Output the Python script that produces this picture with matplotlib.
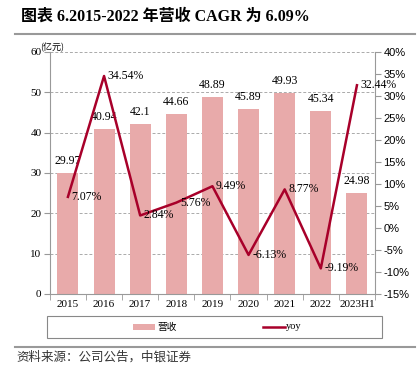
import matplotlib
matplotlib.use("Agg")
import matplotlib.pyplot as plt
from matplotlib.lines import Line2D
from matplotlib.patches import Rectangle

categories = ["2015", "2016", "2017", "2018", "2019", "2020", "2021", "2022", "2023H1"]
revenue = [29.97, 40.94, 42.1, 44.66, 48.89, 45.89, 49.93, 45.34, 24.98]
yoy = [7.07, 34.54, 2.84, 5.76, 9.49, -6.13, 8.77, -9.19, 32.44]
rev_labels = ["29.97", "40.94", "42.1", "44.66", "48.89", "45.89", "49.93", "45.34", "24.98"]
yoy_labels = ["7.07%", "34.54%", "2.84%", "5.76%", "9.49%", "-6.13%", "8.77%", "-9.19%", "32.44%"]

serif = ["Liberation Serif", "Noto Sans CJK SC"]
cjk = ["Noto Sans CJK SC", "DejaVu Sans"]
sans = ["Liberation Sans", "DejaVu Sans"]

bar_color = "#E8AAAA"
line_color = "#A8002A"
gray = "#999999"

fig = plt.figure(figsize=(4.19, 3.74), dpi=100)
ax = fig.add_axes([0.119, 0.214, 0.776, 0.647])
ax2 = ax.twinx()

x = list(range(len(categories)))
ax.bar(x, revenue, width=0.58, color=bar_color, zorder=2)
ax.set_ylim(0, 60)
ax.set_xlim(-0.5, len(categories) - 0.5)
ax.set_yticks(range(0, 61, 10))
ax.set_yticklabels([str(v) for v in range(0, 61, 10)], fontfamily=serif, fontsize=8)
ax.set_xticks(x)
ax.set_xticklabels(categories, fontfamily=serif, fontsize=8)
ax.set_xticks([i + 0.5 for i in range(-1, len(categories))], minor=True)
ax.tick_params(axis="x", which="major", length=0, pad=4)
ax.tick_params(axis="x", which="minor", length=4, color=gray, direction="out")
ax.tick_params(axis="y", length=4, color=gray, direction="out", pad=2)
for v in range(10, 61, 10):
    ax.axhline(v, color="#AAAAAA", lw=0.7, ls=(0, (3, 2)), zorder=1)
for s in ["top", "right"]:
    ax.spines[s].set_visible(False)
for s in ["left", "bottom"]:
    ax.spines[s].set_color(gray)
    ax.spines[s].set_linewidth(0.8)

for i, (v, t) in enumerate(zip(revenue, rev_labels)):
    ax.text(i, v + 1.5, t, ha="center", va="bottom", fontfamily=serif, fontsize=8.5, zorder=5)

ax2.plot(x, yoy, color=line_color, lw=1.8, zorder=4)
ax2.set_ylim(-15, 40)
ax2.set_yticks(range(-15, 41, 5))
ax2.set_yticklabels([f"{v}%" for v in range(-15, 41, 5)], fontfamily=sans, fontsize=8)
ax2.tick_params(axis="y", length=4, color=gray, direction="out", pad=2)
for s in ["top", "left", "bottom"]:
    ax2.spines[s].set_visible(False)
ax2.spines["right"].set_color(gray)
ax2.spines["right"].set_linewidth(0.8)
for i, (v, t) in enumerate(zip(yoy, yoy_labels)):
    ax2.text(i + 0.1, v, t, ha="left", va="center", fontfamily=serif, fontsize=8.5, zorder=5)

ax.text(-0.03, 1.0, "(亿元)", transform=ax.transAxes, ha="left", va="bottom",
        fontfamily=cjk, fontsize=6.5, style="italic")

# title and rules
fig.text(0.05, 0.955, "图表 6.2015-2022 年营收 CAGR 为 6.09%", ha="left", va="center",
         fontfamily=["Liberation Serif", "Noto Sans CJK SC"], fontweight="bold", fontsize=11.5)
fig.add_artist(Line2D([0.036, 0.99], [0.909, 0.909], color="#999999", lw=1.5))
fig.add_artist(Line2D([0.036, 0.99], [0.072, 0.072], color="#999999", lw=1.5))
fig.text(0.04, 0.045, "资料来源：公司公告，中银证券", ha="left", va="center",
         fontfamily=cjk, fontsize=9, style="italic", color="#333333")

# legend box
fig.add_artist(Rectangle((0.112, 0.096), 0.80, 0.059, transform=fig.transFigure,
                         fill=False, edgecolor="#888888", lw=0.8))
fig.add_artist(Rectangle((0.318, 0.118), 0.052, 0.015, transform=fig.transFigure,
                         facecolor=bar_color, edgecolor="none"))
fig.text(0.375, 0.126, "营收", ha="left", va="center", fontfamily=cjk, fontsize=7)
fig.add_artist(Line2D([0.628, 0.68], [0.126, 0.126], color=line_color, lw=1.8))
fig.text(0.683, 0.126, "yoy", ha="left", va="center", fontfamily=serif, fontsize=7.5)

fig.savefig("out.png", dpi=100)
